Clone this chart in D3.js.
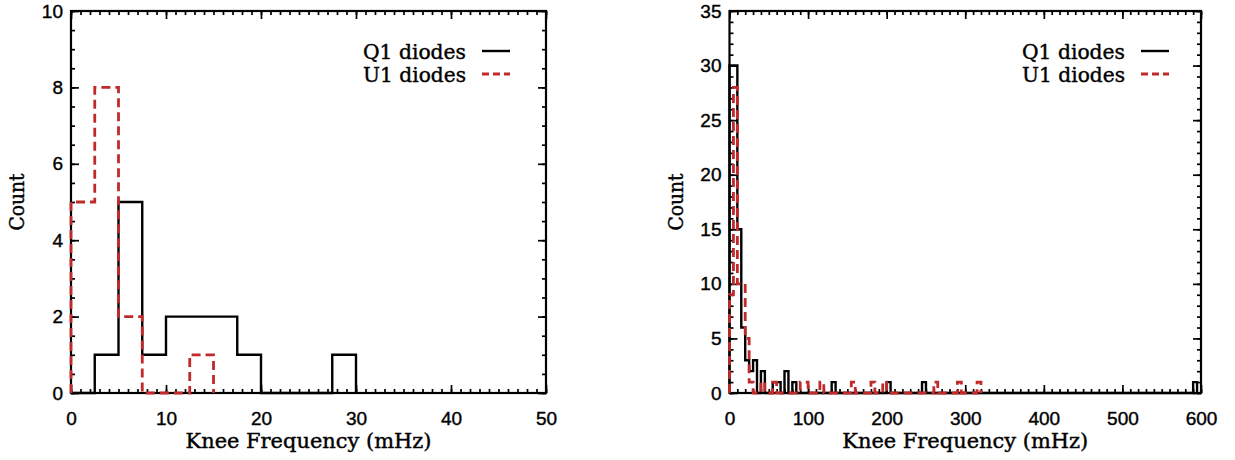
<!DOCTYPE html>
<html>
<head>
<meta charset="utf-8">
<script src="https://cdn.jsdelivr.net/npm/d3@7"></script>
<style>
  html, body { margin: 0; padding: 0; background: #fff; }
  svg { display: block; }
  .tick text { font-family: "Liberation Sans", Arial, sans-serif; font-size: 19px; fill: #000; stroke: #000; stroke-width: 0.4px; }
  .title { font-family: "DejaVu Serif", serif; font-size: 20px; fill: #000; stroke: #000; stroke-width: 0.4px; }
</style>
</head>
<body>
<script>
// ---------------- data ----------------
// Left panel: bins of 2.5 mHz starting at 0
const leftBinWidth = 2.5;
const q1LeftCounts = [0, 1, 5, 1, 2, 2, 2, 1, 0, 0, 0, 1];   // 0 .. 30 mHz
const u1LeftCounts = [5, 8, 2, 0, 0, 1];                     // 0 .. 15 mHz
const leftXTicks = [0, 10, 20, 30, 40, 50];
const leftYTicks = [0, 2, 4, 6, 8, 10];

// Right panel: bins of 5 mHz (lower edges) with non-zero counts
const rightBinWidth = 5;
const q1RightLo    = [0, 5, 10, 15, 20, 25, 30, 40, 55, 60, 70, 80, 130, 200, 245, 590];
const q1RightCount = [30, 30, 15, 6, 3, 2, 3, 2, 1, 1, 2, 1, 1, 1, 1, 1];
const u1RightLo    = [0, 5, 10, 15, 20, 25, 40, 55, 90, 95, 115, 155, 180, 195, 260, 290, 315];
const u1RightCount = [9, 28, 10, 10, 5, 1, 1, 1, 1, 1, 1, 1, 1, 1, 1, 1, 1];
const rightXTicks = [0, 100, 200, 300, 400, 500, 600];
const rightYTicks = [0, 5, 10, 15, 20, 25, 30, 35];

const seriesNames = ["Q1 diodes", "U1 diodes"];
const xTitle = "Knee Frequency (mHz)";
const yTitle = "Count";

// ---------------- drawing ----------------
const W = 1235, H = 460;
const svg = d3.select("body").append("svg").attr("width", W).attr("height", H);
const RED = "#c02a2a";

function denseFromSparse(lo, cnt, w) {
  const n = Math.round(d3.max(lo) / w) + 1;
  const arr = new Array(n).fill(0);
  lo.forEach((l, i) => { arr[Math.round(l / w)] = cnt[i]; });
  return arr;
}

function stepPoints(counts, w) {
  const pts = [[0, 0]];
  counts.forEach((c, i) => { pts.push([i * w, c]); pts.push([(i + 1) * w, c]); });
  pts.push([counts.length * w, 0]);
  return pts;
}

function panel(opts) {
  const { x0, x1, y0, y1, xDomain, yDomain, xTicks, yTicks, xMinor, yMinor, series, legendX } = opts;
  const x = d3.scaleLinear().domain(xDomain).range([x0, x1]);
  const y = d3.scaleLinear().domain(yDomain).range([y0, y1]);
  const g = svg.append("g");

  const minorX = d3.range(xDomain[0], xDomain[1] + 1e-9, xMinor);
  const minorY = d3.range(yDomain[0], yDomain[1] + 1e-9, yMinor);
  const MAJ = 8, MIN = 4;

  g.append("g").attr("transform", `translate(0,${y0})`)
    .call(d3.axisBottom(x).tickValues(xTicks).tickSize(-MAJ).tickPadding(19).tickFormat(d3.format("d")));
  g.append("g").attr("transform", `translate(0,${y0})`)
    .call(d3.axisBottom(x).tickValues(minorX).tickSize(-MIN).tickFormat(""));
  g.append("g").attr("transform", `translate(0,${y1})`)
    .call(d3.axisTop(x).tickValues(xTicks).tickSize(-MAJ).tickFormat(""));
  g.append("g").attr("transform", `translate(0,${y1})`)
    .call(d3.axisTop(x).tickValues(minorX).tickSize(-MIN).tickFormat(""));
  g.append("g").attr("transform", `translate(${x0},0)`)
    .call(d3.axisLeft(y).tickValues(yTicks).tickSize(-MAJ).tickPadding(8).tickFormat(d3.format("d")));
  g.append("g").attr("transform", `translate(${x0},0)`)
    .call(d3.axisLeft(y).tickValues(minorY).tickSize(-MIN).tickFormat(""));
  g.append("g").attr("transform", `translate(${x1},0)`)
    .call(d3.axisRight(y).tickValues(yTicks).tickSize(-MAJ).tickFormat(""));
  g.append("g").attr("transform", `translate(${x1},0)`)
    .call(d3.axisRight(y).tickValues(minorY).tickSize(-MIN).tickFormat(""));

  g.selectAll(".domain").remove();
  g.selectAll(".tick line").attr("stroke", "#000").attr("stroke-width", 1.7);

  g.append("rect").attr("x", x0).attr("y", y1).attr("width", x1 - x0).attr("height", y0 - y1)
    .attr("fill", "none").attr("stroke", "#000").attr("stroke-width", 2.2);

  const line = d3.line().x(d => x(d[0])).y(d => y(d[1]));
  series.forEach(s => {
    g.append("path").attr("d", line(s.points)).attr("fill", "none")
      .attr("stroke", s.color).attr("stroke-width", s.width)
      .attr("stroke-dasharray", s.dash || null)
      .attr("stroke-linejoin", "miter").attr("stroke-linecap", "butt");
  });

  g.append("text").attr("class", "title").attr("x", (x0 + x1) / 2).attr("y", 448)
    .attr("text-anchor", "middle").attr("textLength", 246).attr("lengthAdjust", "spacingAndGlyphs").text(xTitle);
  g.append("text").attr("class", "title")
    .attr("transform", `translate(${x0 - 47},${(y0 + y1) / 2}) rotate(-90)`)
    .attr("text-anchor", "middle").attr("textLength", 57).attr("lengthAdjust", "spacingAndGlyphs").text(yTitle);

  const legY = [52, 75];
  seriesNames.forEach((name, i) => {
    g.append("text").attr("class", "title").attr("x", legendX).attr("y", legY[i] + 7)
      .attr("textLength", 103).attr("lengthAdjust", "spacingAndGlyphs").text(name);
    g.append("line").attr("x1", legendX + 119).attr("x2", legendX + 147)
      .attr("y1", legY[i] - 1).attr("y2", legY[i] - 1)
      .attr("stroke", series[i].color).attr("stroke-width", series[i].width)
      .attr("stroke-dasharray", series[i].dash ? "7,4" : null);
  });
}

panel({
  x0: 71, x1: 546, y0: 393, y1: 11,
  xDomain: [0, 50], yDomain: [0, 10],
  xTicks: leftXTicks, yTicks: leftYTicks, xMinor: 1, yMinor: 0.5,
  legendX: 363,
  series: [
    { points: stepPoints(q1LeftCounts, leftBinWidth), color: "#000", width: 2.4 },
    { points: stepPoints(u1LeftCounts, leftBinWidth), color: RED, width: 2.8, dash: "9,5" }
  ]
});

panel({
  x0: 729.5, x1: 1201, y0: 393, y1: 11,
  xDomain: [0, 600], yDomain: [0, 35],
  xTicks: rightXTicks, yTicks: rightYTicks, xMinor: 10, yMinor: 1,
  legendX: 1022,
  series: [
    { points: stepPoints(denseFromSparse(q1RightLo, q1RightCount, rightBinWidth), rightBinWidth), color: "#000", width: 2.4 },
    { points: stepPoints(denseFromSparse(u1RightLo, u1RightCount, rightBinWidth), rightBinWidth), color: RED, width: 2.8, dash: "9,5" }
  ]
});
</script>
</body>
</html>
